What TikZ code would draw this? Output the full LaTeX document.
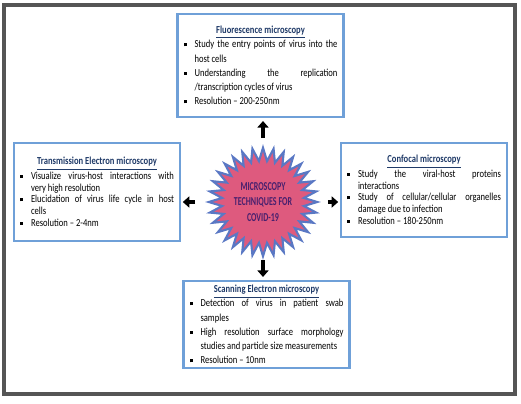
\documentclass[tikz,border=0pt]{standalone}
\usepackage{fontspec}
\setmainfont{Carlito}[FakeStretch=0.8]
\newfontfamily\burstfont{Carlito}[FakeStretch=0.66]
\usepackage{xcolor}
\usepackage{tikz}
\usetikzlibrary{shapes.geometric,arrows.meta,positioning}
\definecolor{clrFrame}{HTML}{555555}
\definecolor{clrBox}{HTML}{6FA0D8}
\definecolor{clrTitle}{HTML}{1F3A68}
\definecolor{clrBurst}{HTML}{DE5A7E}
\definecolor{clrBurstLine}{HTML}{5A78C4}
\definecolor{clrBurstText}{HTML}{48206E}
\newcommand\boxtitle[1]{\noindent\makebox[\linewidth]{\textbf{\color{clrTitle}\underline{#1}}}\par}
\newcommand\bitem[1]{\noindent\hangindent=0.22cm\hangafter=1%
  \makebox[0.22cm][l]{\rule[0.3ex]{0.6ex}{0.6ex}}#1\par}
\tikzset{
  infobox/.style={rectangle, draw=clrBox, line width=1.2pt, fill=white,
    text width=3.08cm, inner xsep=0.12cm, inner ysep=2pt, align=justify,
    font=\fontsize{6.1}{8.1}\selectfont},
  sidebox/.style={infobox, font=\fontsize{6.1}{6.7}\selectfont},
  burst/.style={star, star points=32, star point ratio=1.32,
    minimum size=2.17cm, inner sep=0pt, fill=clrBurst, draw=clrBurstLine,
    line width=1.2pt},
  bursttext/.style={align=center, font=\burstfont\bfseries\fontsize{6.9}{8.6}\selectfont,
    text=clrBurstText},
  arr/.style={-{Triangle[length=0.13cm, width=0.22cm]}, line width=0.08cm, black},
  outerframe/.style={draw=clrFrame, line width=1.8pt},
}
\begin{document}
\begin{tikzpicture}[x=0.02cm, y=0.02cm]
\useasboundingbox (0,0) rectangle (521,403);

% ── outer frame ────────────────────────────────────────────────────────────
\draw[outerframe] (4,9) rectangle (515,398);

% ── centre ─────────────────────────────────────────────────────────────────
\node[burst] (burst) at (263,201) {};
\node[bursttext] (burstlbl) at (burst) {MICROSCOPY\\TECHNIQUES FOR\\COVID-19};

% ── top: fluorescence ──────────────────────────────────────────────────────
\node[infobox, minimum height=2.06cm] (fluo) at (260.5,337.5) {%
  \boxtitle{Fluorescence microscopy}
  \bitem{Study the entry points of virus into the\linebreak host cells}
  \bitem{Understanding the replication\linebreak /transcription cycles of virus}
  \bitem{Resolution -- 200-250nm}};

% ── left: transmission EM ──────────────────────────────────────────────────
\node[sidebox, minimum height=1.96cm] (tem) at (97,211) {%
  \boxtitle{Transmission Electron microscopy}
  \bitem{Visualize virus-host interactions with\linebreak very high resolution}
  \bitem{Elucidation of virus life cycle in host\linebreak cells}
  \bitem{Resolution -- 2-4nm}};

% ── right: confocal ────────────────────────────────────────────────────────
\node[sidebox, minimum height=1.88cm] (conf) at (424,213) {%
  \boxtitle{Confocal microscopy}
  \bitem{Study the viral-host proteins\linebreak interactions}
  \bitem{Study of cellular/cellular organelles\linebreak damage due to infection}
  \bitem{Resolution -- 180-250nm}};

% ── bottom: scanning EM ────────────────────────────────────────────────────
\node[infobox, minimum height=1.74cm] (sem) at (266.5,78.5) {%
  \boxtitle{Scanning Electron microscopy}
  \bitem{Detection of virus in patient swab\linebreak samples}
  \bitem{High resolution surface morphology\linebreak studies and particle size measurements}
  \bitem{Resolution -- 10nm}};

% ── arrows ─────────────────────────────────────────────────────────────────
\draw[arr, shorten <=0.12cm, shorten >=0.06cm] (burst.north) -- (burst.north |- fluo.south);
\draw[arr, shorten <=0.2cm, shorten >=1pt] (burst.west) -- (burst.west -| tem.east);
\draw[arr, shorten <=0.14cm, shorten >=1pt] (burst.east) -- (burst.east -| conf.west);
\draw[arr, shorten >=0.06cm] (burst.south) -- (burst.south |- sem.north);

\end{tikzpicture}
\end{document}
